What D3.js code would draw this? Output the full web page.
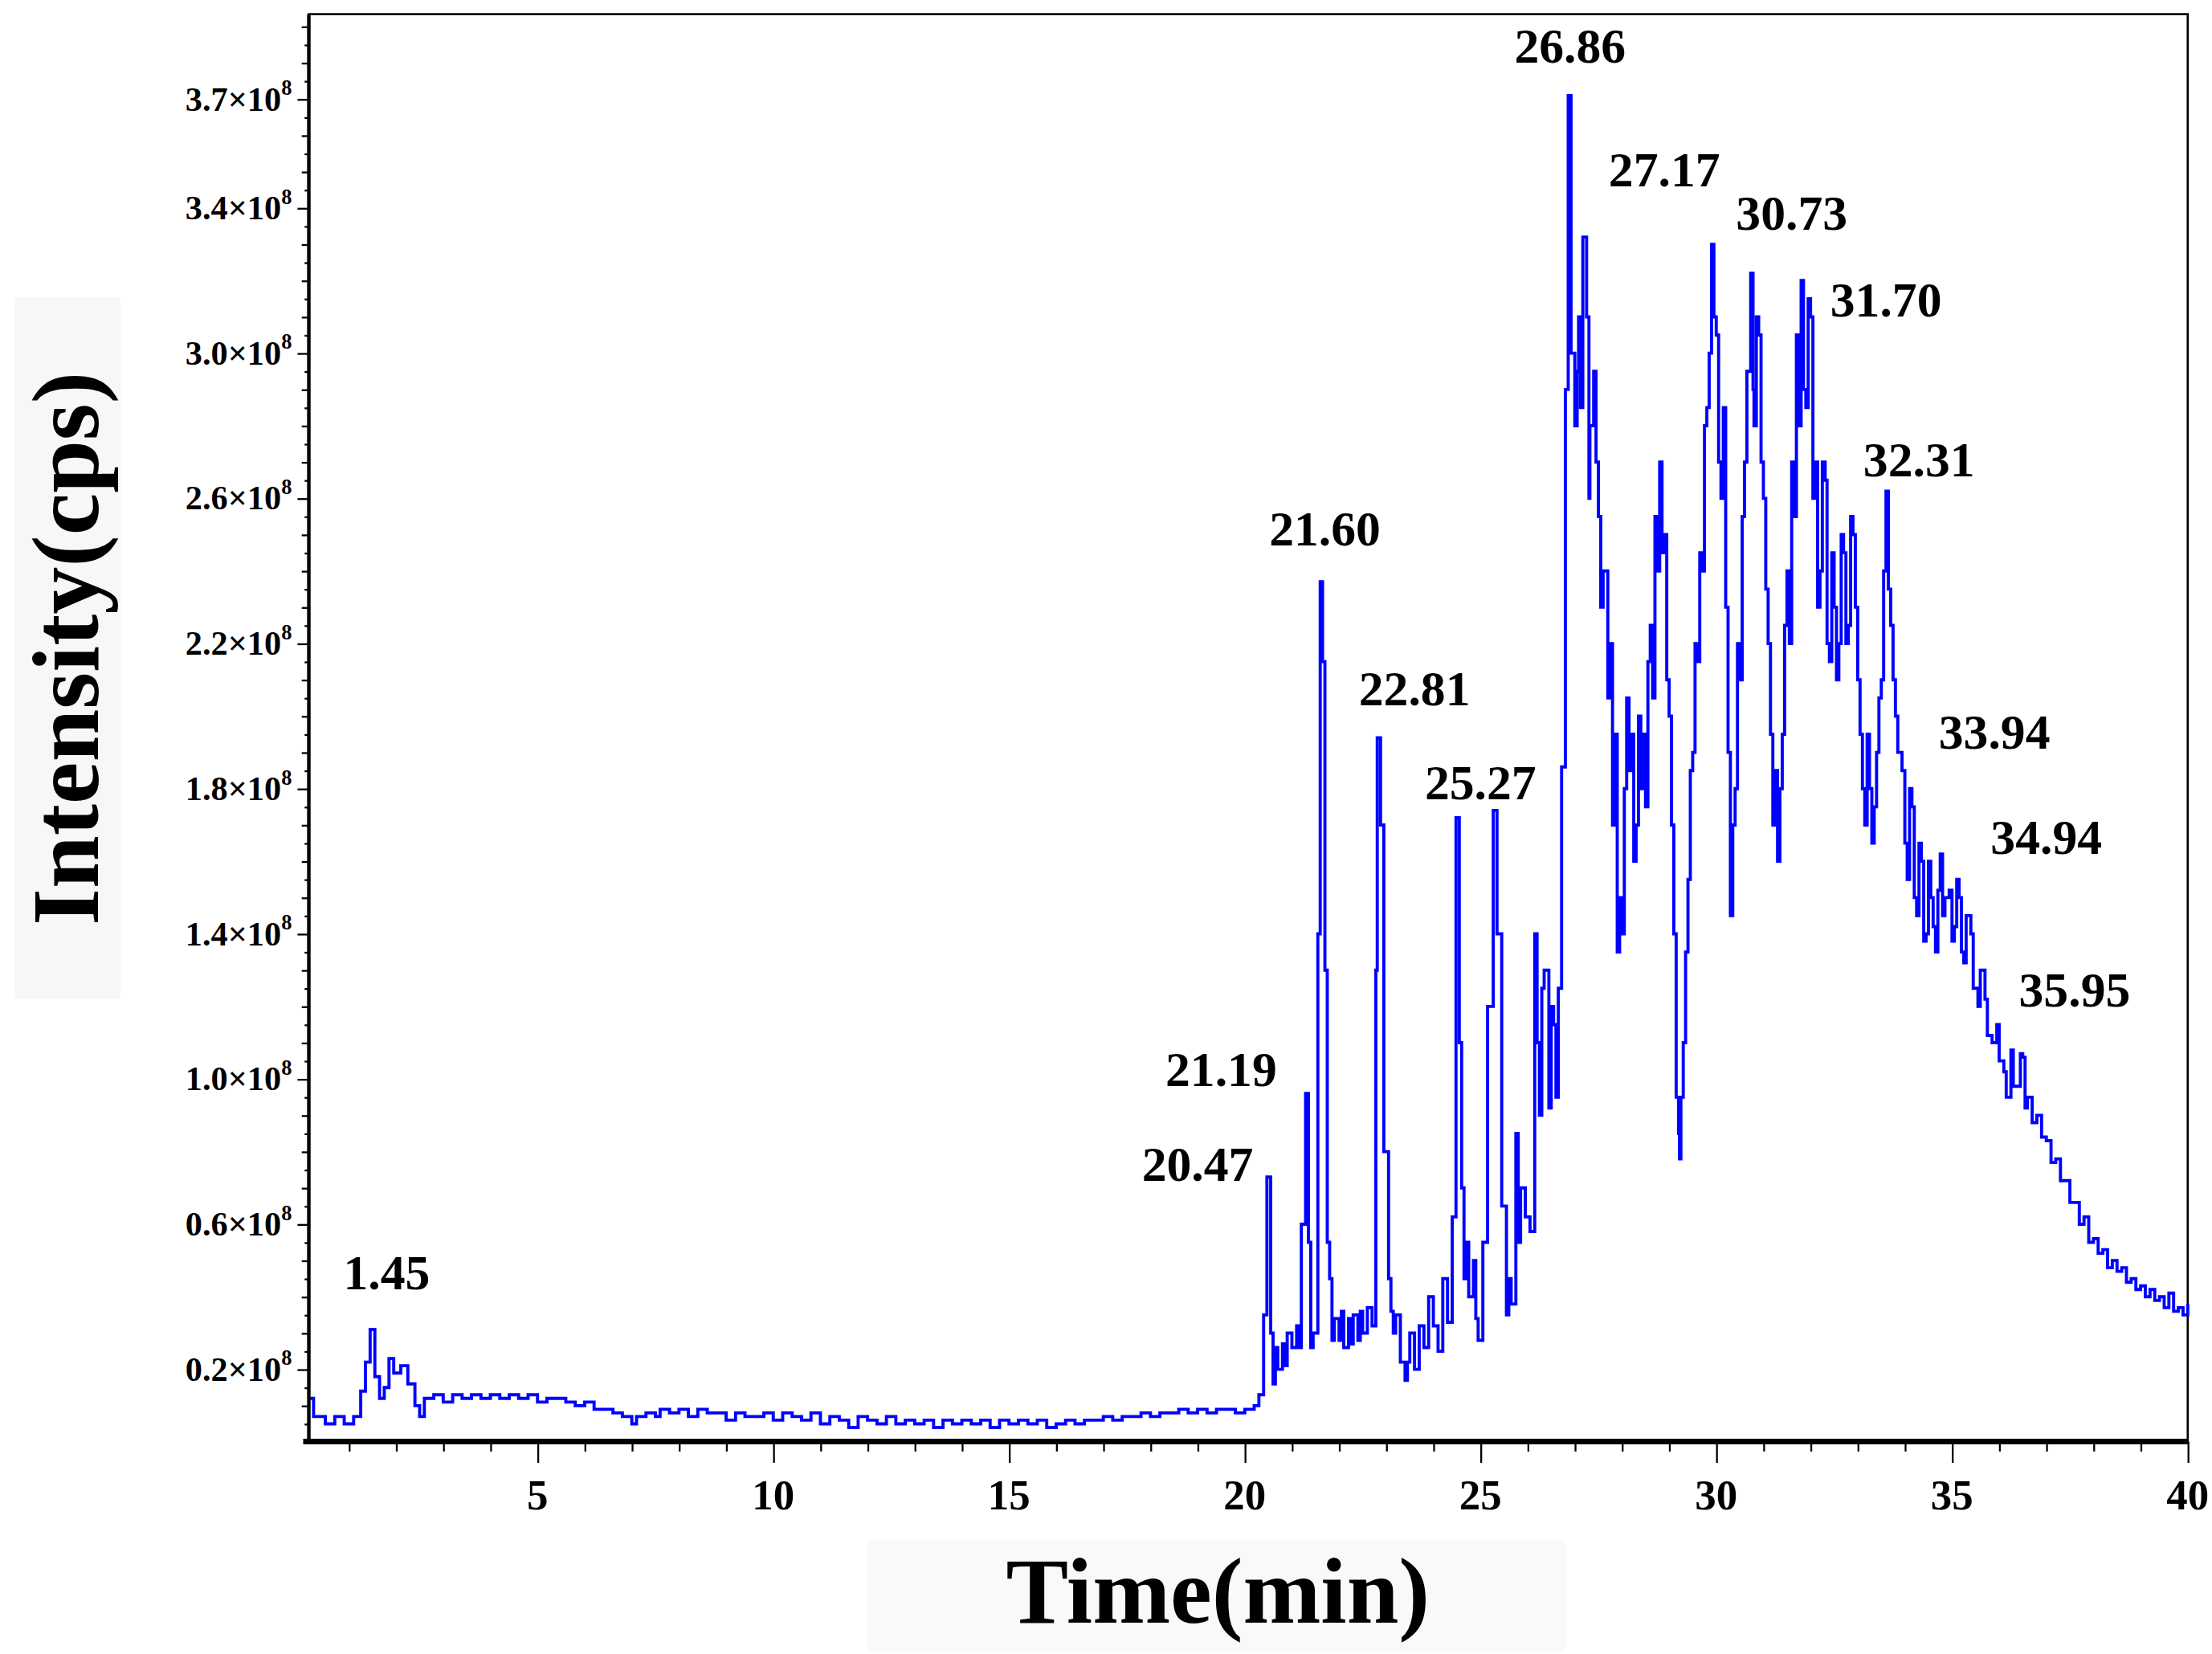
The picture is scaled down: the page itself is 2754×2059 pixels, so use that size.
<!DOCTYPE html>
<html>
<head>
<meta charset="utf-8">
<script src="https://cdn.jsdelivr.net/npm/d3@7"></script>
<style>
  html, body { margin: 0; padding: 0; background: #fff; }
  text { font-family: "Liberation Serif", "Times New Roman", serif; font-weight: bold; }
</style>
</head>
<body>
<svg id="chart"></svg>
<script>
// chromatogram trace: [time (min), intensity (x1e8 cps)]
const trace = [
  [0.15, 0.12], [0.25, 0.07], [0.5, 0.05], [0.7, 0.07], [0.9, 0.05], [1.1, 0.07], [1.25, 0.14],
  [1.35, 0.22], [1.45, 0.31], [1.55, 0.18], [1.65, 0.12], [1.75, 0.15], [1.85, 0.23], [1.95, 0.19],
  [2.1, 0.21], [2.25, 0.16], [2.4, 0.10], [2.5, 0.07], [2.6, 0.12], [2.8, 0.13], [3.0, 0.11], [3.2, 0.13],
  [3.4, 0.12], [3.6, 0.13], [3.8, 0.12], [4.0, 0.13], [4.2, 0.12], [4.4, 0.13], [4.6, 0.12], [4.8, 0.13],
  [5.0, 0.11], [5.2, 0.12], [5.6, 0.11], [5.8, 0.10], [6.0, 0.11], [6.2, 0.09], [6.4, 0.09], [6.6, 0.08],
  [6.8, 0.07], [7.0, 0.05], [7.1, 0.07], [7.3, 0.08], [7.5, 0.07], [7.6, 0.09], [7.8, 0.08], [8.0, 0.09],
  [8.2, 0.07], [8.4, 0.09], [8.6, 0.08], [8.8, 0.08], [9.0, 0.06], [9.2, 0.08], [9.4, 0.07], [9.6, 0.07],
  [9.8, 0.08], [10.0, 0.06], [10.2, 0.08], [10.4, 0.07], [10.6, 0.06], [10.8, 0.08], [11.0, 0.05],
  [11.2, 0.07], [11.4, 0.06], [11.6, 0.04], [11.8, 0.07], [12.0, 0.06], [12.2, 0.05], [12.4, 0.07],
  [12.6, 0.05], [12.8, 0.06], [13.0, 0.05], [13.2, 0.06], [13.4, 0.04], [13.6, 0.06], [13.8, 0.05],
  [14.0, 0.06], [14.2, 0.05], [14.4, 0.06], [14.6, 0.04], [14.8, 0.06], [15.0, 0.05], [15.2, 0.06],
  [15.4, 0.05], [15.6, 0.06], [15.8, 0.04], [16.0, 0.05], [16.2, 0.06], [16.4, 0.05], [16.6, 0.06],
  [16.8, 0.06], [17.0, 0.07], [17.2, 0.06], [17.4, 0.07], [17.6, 0.07], [17.8, 0.08], [18.0, 0.07],
  [18.2, 0.08], [18.4, 0.08], [18.6, 0.09], [18.8, 0.08], [19.0, 0.09], [19.2, 0.08], [19.4, 0.09],
  [19.6, 0.09], [19.8, 0.08], [20.0, 0.09], [20.2, 0.10], [20.3, 0.13], [20.4, 0.35], [20.47, 0.73],
  [20.55, 0.30], [20.6, 0.16], [20.65, 0.26], [20.7, 0.20], [20.8, 0.27], [20.85, 0.21], [20.9, 0.30],
  [21.0, 0.26], [21.1, 0.32], [21.15, 0.26], [21.2, 0.60], [21.29, 0.96], [21.35, 0.55], [21.4, 0.26],
  [21.45, 0.30], [21.55, 1.40], [21.6, 2.37], [21.65, 2.15], [21.7, 1.30], [21.75, 0.55], [21.8, 0.45],
  [21.85, 0.28], [21.9, 0.34], [22.0, 0.28], [22.05, 0.36], [22.1, 0.26], [22.2, 0.34], [22.25, 0.27],
  [22.3, 0.35], [22.4, 0.28], [22.45, 0.36], [22.5, 0.30], [22.6, 0.37], [22.7, 0.32], [22.78, 1.30],
  [22.81, 1.94], [22.88, 1.70], [22.95, 0.80], [23.05, 0.45], [23.1, 0.36], [23.15, 0.30], [23.2, 0.35],
  [23.3, 0.22], [23.4, 0.17], [23.45, 0.22], [23.5, 0.30], [23.6, 0.20], [23.7, 0.32], [23.8, 0.26],
  [23.9, 0.40], [24.0, 0.32], [24.1, 0.25], [24.2, 0.45], [24.3, 0.33], [24.4, 0.62], [24.48, 1.72],
  [24.55, 1.10], [24.6, 0.70], [24.65, 0.45], [24.7, 0.55], [24.75, 0.40], [24.85, 0.50], [24.9, 0.34],
  [24.95, 0.28], [25.05, 0.55], [25.15, 1.20], [25.27, 1.74], [25.35, 1.40], [25.45, 0.65], [25.55, 0.35],
  [25.6, 0.45], [25.65, 0.38], [25.75, 0.85], [25.8, 0.55], [25.85, 0.70], [25.95, 0.62], [26.05, 0.58],
  [26.15, 1.40], [26.2, 1.10], [26.25, 0.90], [26.3, 1.25], [26.35, 1.30], [26.45, 0.92], [26.5, 1.20],
  [26.55, 1.15], [26.6, 0.95], [26.65, 1.25], [26.72, 1.86], [26.8, 2.90], [26.86, 3.71], [26.92, 3.00],
  [27.0, 2.80], [27.05, 2.95], [27.08, 3.10], [27.12, 2.85], [27.17, 3.32], [27.25, 3.10], [27.3, 2.60],
  [27.32, 2.80], [27.4, 2.95], [27.45, 2.70], [27.5, 2.55], [27.55, 2.30], [27.6, 2.40], [27.7, 2.05],
  [27.75, 2.20], [27.8, 1.70], [27.85, 1.95], [27.9, 1.35], [27.95, 1.50], [28.0, 1.40], [28.05, 1.80],
  [28.1, 2.05], [28.15, 1.85], [28.2, 1.95], [28.25, 1.60], [28.3, 1.70], [28.35, 2.00], [28.4, 1.80],
  [28.45, 1.95], [28.5, 1.75], [28.55, 2.15], [28.6, 2.25], [28.65, 2.05], [28.7, 2.55], [28.75, 2.40],
  [28.8, 2.70], [28.85, 2.45], [28.9, 2.50], [28.95, 2.10], [29.0, 2.00], [29.05, 1.70], [29.1, 1.40],
  [29.15, 0.95], [29.2, 0.85], [29.22, 0.78], [29.25, 0.95], [29.3, 1.10], [29.35, 1.35], [29.4, 1.55],
  [29.45, 1.85], [29.5, 1.90], [29.55, 2.20], [29.6, 2.15], [29.65, 2.45], [29.7, 2.40], [29.75, 2.80],
  [29.8, 2.85], [29.85, 3.00], [29.9, 3.30], [29.95, 3.10], [30.0, 3.05], [30.05, 2.70], [30.1, 2.60],
  [30.15, 2.85], [30.2, 2.30], [30.25, 1.90], [30.3, 1.45], [30.35, 1.70], [30.4, 1.80], [30.45, 2.20],
  [30.5, 2.10], [30.55, 2.55], [30.6, 2.70], [30.65, 2.95], [30.73, 3.22], [30.78, 2.90], [30.8, 2.80],
  [30.85, 3.10], [30.9, 3.05], [30.95, 2.70], [31.0, 2.60], [31.05, 2.35], [31.1, 2.20], [31.15, 1.95],
  [31.2, 1.70], [31.25, 1.85], [31.3, 1.60], [31.35, 1.80], [31.4, 1.95], [31.45, 2.25], [31.5, 2.40],
  [31.55, 2.20], [31.6, 2.70], [31.65, 2.55], [31.7, 3.05], [31.75, 2.80], [31.8, 3.20], [31.85, 2.90],
  [31.9, 2.85], [31.95, 3.15], [32.0, 3.10], [32.05, 2.60], [32.1, 2.70], [32.15, 2.30], [32.2, 2.40],
  [32.25, 2.70], [32.31, 2.65], [32.35, 2.20], [32.4, 2.15], [32.45, 2.45], [32.5, 2.30], [32.55, 2.10],
  [32.6, 2.20], [32.65, 2.50], [32.7, 2.45], [32.75, 2.20], [32.8, 2.25], [32.85, 2.55], [32.9, 2.50],
  [32.95, 2.30], [33.0, 2.10], [33.05, 1.95], [33.1, 1.80], [33.15, 1.70], [33.2, 1.95], [33.25, 1.80],
  [33.3, 1.65], [33.35, 1.75], [33.4, 1.90], [33.45, 2.05], [33.5, 2.10], [33.55, 2.40], [33.6, 2.62],
  [33.65, 2.35], [33.7, 2.25], [33.75, 2.10], [33.8, 2.00], [33.85, 1.90], [33.94, 1.85], [34.0, 1.65],
  [34.05, 1.55], [34.1, 1.80], [34.15, 1.75], [34.2, 1.50], [34.25, 1.45], [34.3, 1.65], [34.35, 1.60],
  [34.4, 1.38], [34.45, 1.40], [34.5, 1.60], [34.55, 1.50], [34.6, 1.42], [34.65, 1.35], [34.7, 1.52],
  [34.75, 1.62], [34.8, 1.45], [34.85, 1.50], [34.94, 1.52], [35.0, 1.38], [35.05, 1.42], [35.1, 1.55],
  [35.15, 1.50], [35.2, 1.35], [35.25, 1.32], [35.3, 1.45], [35.4, 1.40], [35.45, 1.25], [35.55, 1.20],
  [35.6, 1.30], [35.7, 1.22], [35.75, 1.12], [35.85, 1.10], [35.95, 1.15], [36.0, 1.05], [36.1, 1.02],
  [36.15, 0.95], [36.25, 1.08], [36.3, 0.98], [36.4, 0.98], [36.45, 1.07], [36.5, 1.06], [36.55, 0.92],
  [36.6, 0.95], [36.7, 0.88], [36.8, 0.90], [36.9, 0.84], [37.0, 0.83], [37.1, 0.77], [37.2, 0.78],
  [37.3, 0.72], [37.4, 0.72], [37.5, 0.66], [37.6, 0.66], [37.7, 0.60], [37.8, 0.62], [37.9, 0.55],
  [38.0, 0.56], [38.1, 0.52], [38.2, 0.53], [38.3, 0.48], [38.4, 0.50], [38.5, 0.47], [38.6, 0.48],
  [38.7, 0.44], [38.8, 0.45], [38.9, 0.42], [39.0, 0.43], [39.1, 0.40], [39.2, 0.42], [39.3, 0.39],
  [39.4, 0.40], [39.5, 0.37], [39.6, 0.41], [39.7, 0.36], [39.8, 0.37], [39.9, 0.35], [40.0, 0.38]
];

// peak annotations: [label, time of text centre, intensity of text baseline]
const peakLabels = [
  ['1.45', 1.8, 0.42], ['20.47', 19.0, 0.72], ['21.19', 19.5, 0.98], ['21.60', 21.7, 2.47],
  ['22.81', 23.6, 2.03], ['25.27', 25.0, 1.77], ['26.86', 26.9, 3.80], ['27.17', 28.9, 3.46],
  ['30.73', 31.6, 3.34], ['31.70', 33.6, 3.10], ['32.31', 34.3, 2.66], ['33.94', 35.9, 1.91],
  ['34.94', 37.0, 1.62], ['35.95', 37.6, 1.20]
];

const xTicks = [5, 10, 15, 20, 25, 30, 35, 40];
const yTicks = [0.2, 0.6, 1.0, 1.4, 1.8, 2.2, 2.6, 3.0, 3.4, 3.7];

const W = 1562, H = 1168;
const svg = d3.select('#chart')
  .attr('width', 2754).attr('height', 2059)
  .attr('viewBox', `0 0 ${W} ${H}`);

const plot = { left: 218, right: 1545, top: 10, bottom: 1018 };

const x = d3.scaleLinear().domain([0.15, 40]).range([plot.left, plot.right]);
const y = d3.scaleLinear().domain([0.2, 3.7]).range([967, 70]);

// frame
svg.append('rect')
  .attr('x', plot.left).attr('y', plot.top)
  .attr('width', plot.right - plot.left).attr('height', plot.bottom - plot.top)
  .attr('fill', 'none').attr('stroke', '#000').attr('stroke-width', 1.5);

// trace
svg.append('path')
  .datum(trace)
  .attr('fill', 'none')
  .attr('stroke', '#0000ff')
  .attr('stroke-width', 2.2)
  .attr('d', d3.line().curve(d3.curveStepAfter).x(d => x(d[0])).y(d => y(d[1])));

// x axis
const xAxis = svg.append('g').attr('transform', `translate(0,${plot.bottom})`);
xAxis.call(d3.axisBottom(x).tickValues(d3.range(1, 41)).tickSize(7).tickFormat(''))
xAxis.call(g => g.select('.domain').remove());
xAxis.selectAll('line').attr('stroke-width', 1.3);
xAxis.selectAll('.tick').filter(d => d % 5 === 0).select('line').attr('y2', 15);
svg.append('line')
  .attr('x1', plot.left - 4).attr('x2', plot.right)
  .attr('y1', plot.bottom).attr('y2', plot.bottom)
  .attr('stroke', '#000').attr('stroke-width', 4);
svg.append('g').selectAll('text').data(xTicks).join('text')
  .attr('x', d => x(d)).attr('y', 1066)
  .attr('text-anchor', 'middle')
  .attr('font-size', 30)
  .text(d => d);

// y axis
const yAxis = svg.append('g').attr('transform', `translate(${plot.left},0)`);
yAxis.call(d3.axisLeft(y).tickValues(d3.range(0.05, 3.95, 0.05)).tickSize(3).tickFormat(''));
yAxis.call(g => g.select('.domain').remove());
yAxis.selectAll('line').attr('stroke-width', 1.3);
yAxis.selectAll('.tick').filter(d => Math.abs(d * 10 - Math.round(d * 10)) < 1e-6).select('line').attr('x2', -5);
yAxis.selectAll('.tick').filter(d => yTicks.some(t => Math.abs(t - d) < 1e-6)).select('line').attr('x2', -8);
svg.append('line')
  .attr('x1', plot.left).attr('x2', plot.left)
  .attr('y1', plot.top).attr('y2', plot.bottom)
  .attr('stroke', '#000').attr('stroke-width', 2.5);

const yl = svg.append('g').selectAll('text').data(yTicks).join('text')
  .attr('x', plot.left - 12).attr('y', d => y(d) + 8)
  .attr('text-anchor', 'end')
  .attr('font-size', 24);
yl.append('tspan').text(d => d.toFixed(1) + '\u00d710');
yl.append('tspan').attr('dy', -11).attr('font-size', 15).text('8');

// peak labels
svg.append('g').selectAll('text').data(peakLabels).join('text')
  .attr('x', d => x(d[1])).attr('y', d => y(d[2]))
  .attr('text-anchor', 'middle')
  .attr('font-size', 35)
  .text(d => d[0]);

// axis titles with faint backdrop
svg.append('rect').attr('x', 10).attr('y', 210).attr('width', 75).attr('height', 495).attr('fill', '#f7f7f7');
svg.append('text')
  .attr('transform', 'translate(69,458) rotate(-90)')
  .attr('text-anchor', 'middle')
  .attr('font-size', 67)
  .text('Intensity(cps)');

svg.append('rect').attr('x', 612).attr('y', 1088).attr('width', 494).attr('height', 78).attr('fill', '#f9f9f9');
svg.append('text')
  .attr('x', 860).attr('y', 1146)
  .attr('text-anchor', 'middle')
  .attr('font-size', 66)
  .text('Time(min)');
</script>
</body>
</html>
